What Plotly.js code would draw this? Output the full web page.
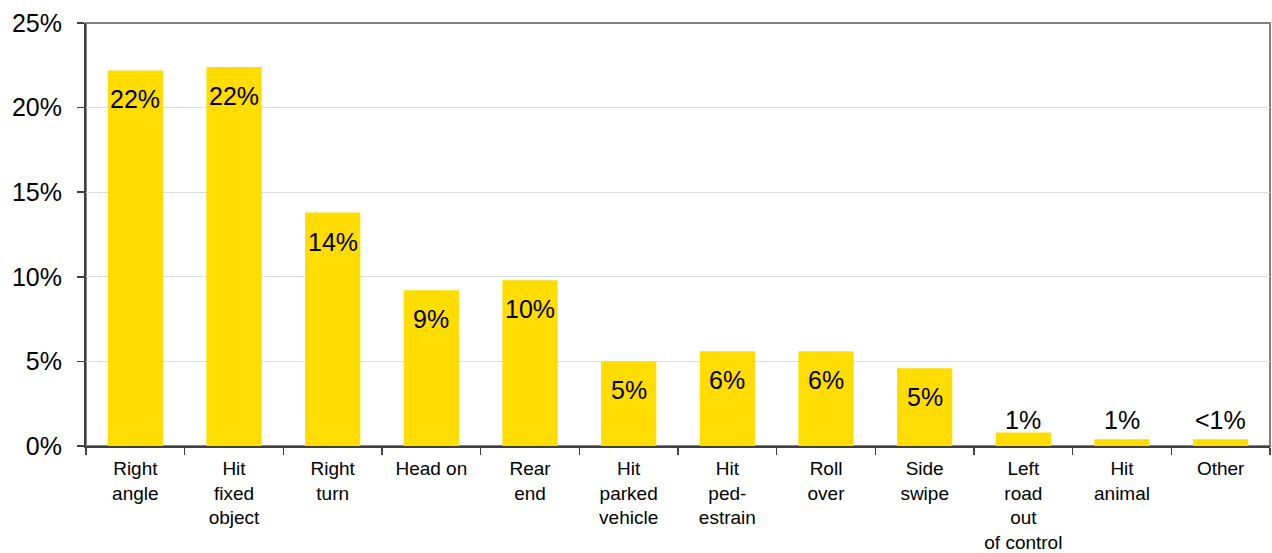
<!DOCTYPE html>
<html>
<head>
<meta charset="utf-8">
<script src="https://cdn.plot.ly/plotly-3.0.1.min.js"></script>
<style>html,body{margin:0;padding:0;background:#fff;}#chart{width:1272px;height:553px;}</style>
</head>
<body>
<div id="chart"></div>
<script>
const categories = ["Right<br>angle", "Hit<br>fixed<br>object", "Right<br>turn", "Head on", "Rear<br>end", "Hit<br>parked<br>vehicle", "Hit<br>ped-<br>estrain", "Roll<br>over", "Side<br>swipe", "Left<br>road<br>out<br>of control", "Hit<br>animal", "Other"];
const values = [22.2, 22.4, 13.8, 9.2, 9.8, 5.0, 5.6, 5.6, 4.6, 0.8, 0.4, 0.4];
const valueLabels = ["22%", "22%", "14%", "9%", "10%", "5%", "6%", "6%", "5%", "1%", "1%", "<1%"];
const yTickVals = [0, 5, 10, 15, 20, 25];
const yTickText = ["0%", "5%", "10%", "15%", "20%", "25%"];

const font = "Liberation Sans, Arial, sans-serif";

const annotations = categories.map((c, i) => {
  const small = values[i] < 2;
  return {
    x: c, y: small ? Math.max(values[i], 0.8) : values[i], xref: 'x', yref: 'y',
    text: valueLabels[i], showarrow: false,
    yanchor: small ? 'bottom' : 'middle',
    yshift: small ? -4 : -29,
    font: {family: font, size: 25, color: '#000'}
  };
});

const trace = {
  type: 'bar', x: categories, y: values,
  marker: {color: '#FFDD00'},
  hoverinfo: 'none'
};

const layout = {
  width: 1272, height: 553,
  margin: {l: 86, r: 2, t: 23, b: 107},
  paper_bgcolor: '#fff', plot_bgcolor: '#fff',
  bargap: 0.44,
  showlegend: false,
  font: {family: font, color: '#000'},
  xaxis: {
    type: 'category', tickson: 'boundaries',
    ticks: 'outside', ticklen: 7, tickcolor: '#404040', tickwidth: 1.5,
    showline: true, linecolor: '#404040', linewidth: 2,
    showgrid: false, zeroline: false,
    tickfont: {family: font, size: 19, color: '#000'},
    ticklabelstandoff: 4
  },
  yaxis: {
    range: [0, 25], tickvals: yTickVals, ticktext: yTickText,
    ticks: 'outside', ticklen: 7, tickcolor: '#404040', tickwidth: 1.5,
    showline: true, linecolor: '#404040', linewidth: 2,
    showgrid: true, gridcolor: '#dcdcdc', gridwidth: 1,
    zeroline: false,
    tickfont: {family: font, size: 25, color: '#000'},
    ticklabelstandoff: 10
  },
  shapes: [{
    type: 'rect', xref: 'paper', yref: 'paper', x0: 0, x1: 1, y0: 0, y1: 1,
    line: {color: '#808080', width: 2}, layer: 'below'
  }],
  annotations: annotations
};

Plotly.newPlot('chart', [trace], layout, {displayModeBar: false, staticPlot: true});
</script>
</body>
</html>
